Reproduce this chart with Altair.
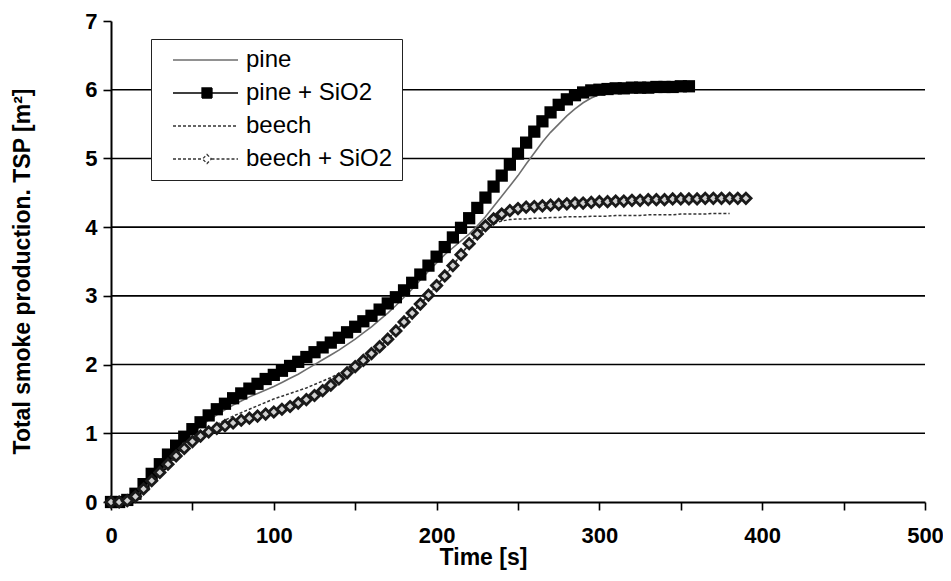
import altair as alt
import pandas as pd

# ---------------- data ----------------
series_names = ["pine", "pine + SiO2", "beech", "beech + SiO2"]

pine_t = list(range(0, 345, 5))
pine_v = [0.00, 0.00, 0.03, 0.11, 0.24, 0.38, 0.52, 0.65, 0.78, 0.90,
          1.01, 1.10, 1.19, 1.27, 1.34, 1.41, 1.47, 1.53, 1.58, 1.63,
          1.68, 1.74, 1.80, 1.86, 1.93, 2.00, 2.07, 2.14, 2.21, 2.29,
          2.37, 2.46, 2.55, 2.65, 2.75, 2.86, 2.98, 3.10, 3.23, 3.36,
          3.48, 3.60, 3.70, 3.80, 3.90, 4.02, 4.15, 4.30, 4.45, 4.60,
          4.75, 4.92, 5.08, 5.24, 5.38, 5.50, 5.62, 5.72, 5.81, 5.88,
          5.93, 5.97, 5.99, 6.00, 6.01, 6.02, 6.02, 6.03, 6.03]

pine_si_t = list(range(0, 360, 5))
pine_si_v = [0.00, 0.00, 0.03, 0.12, 0.26, 0.41, 0.55, 0.69, 0.82, 0.95,
             1.06, 1.16, 1.26, 1.35, 1.43, 1.51, 1.58, 1.65, 1.72, 1.79,
             1.85, 1.91, 1.98, 2.04, 2.11, 2.18, 2.25, 2.32, 2.39, 2.47,
             2.55, 2.63, 2.71, 2.80, 2.89, 2.98, 3.08, 3.19, 3.31, 3.44,
             3.57, 3.71, 3.85, 3.99, 4.13, 4.28, 4.43, 4.59, 4.75, 4.91,
             5.07, 5.23, 5.39, 5.54, 5.67, 5.78, 5.86, 5.92, 5.96, 5.99,
             6.00, 6.01, 6.02, 6.02, 6.03, 6.03, 6.03, 6.04, 6.04, 6.04,
             6.05, 6.05]

beech_t = list(range(0, 385, 5))
beech_v = [0.00, 0.00, 0.02, 0.08, 0.19, 0.31, 0.43, 0.55, 0.67, 0.78,
           0.88, 0.98, 1.06, 1.13, 1.19, 1.25, 1.30, 1.35, 1.40, 1.45,
           1.50, 1.54, 1.58, 1.62, 1.66, 1.71, 1.76, 1.81, 1.87, 1.93,
           2.00, 2.07, 2.16, 2.26, 2.37, 2.49, 2.62, 2.75, 2.88, 3.01,
           3.15, 3.29, 3.44, 3.60, 3.75, 3.88, 3.98, 4.05, 4.09, 4.11,
           4.12, 4.12, 4.13, 4.13, 4.14, 4.14, 4.15, 4.15, 4.15, 4.16,
           4.16, 4.16, 4.17, 4.17, 4.17, 4.17, 4.18, 4.18, 4.18, 4.18,
           4.19, 4.19, 4.19, 4.19, 4.20, 4.20, 4.20]

beech_si_t = list(range(0, 395, 5))
beech_si_v = [0.00, 0.00, 0.02, 0.08, 0.19, 0.31, 0.43, 0.55, 0.67, 0.78,
              0.88, 0.96, 1.02, 1.07, 1.11, 1.15, 1.19, 1.22, 1.25, 1.28,
              1.31, 1.35, 1.39, 1.44, 1.49, 1.55, 1.62, 1.70, 1.79, 1.88,
              1.97, 2.06, 2.16, 2.26, 2.37, 2.49, 2.62, 2.75, 2.88, 3.01,
              3.15, 3.29, 3.44, 3.60, 3.76, 3.90, 4.02, 4.12, 4.19, 4.24,
              4.27, 4.29, 4.30, 4.31, 4.32, 4.33, 4.34, 4.35, 4.35, 4.36,
              4.37, 4.37, 4.38, 4.38, 4.39, 4.39, 4.40, 4.40, 4.40, 4.41,
              4.41, 4.41, 4.41, 4.42, 4.42, 4.42, 4.42, 4.42, 4.42]

grid_values = [1, 2, 3, 4, 5, 6]
x_ticks = list(range(0, 550, 50))
y_ticks = [i / 2 for i in range(0, 15)]

FONT = "Liberation Sans"

def frame(name, t, v):
    return pd.DataFrame({"t": t, "v": v, "series": name})

df_pine = frame("pine", pine_t, pine_v)
df_pine_si = frame("pine + SiO2", pine_si_t, pine_si_v)
df_beech = frame("beech", beech_t, beech_v)
df_beech_si = frame("beech + SiO2", beech_si_t, beech_si_v)
df_all = pd.concat([df_pine, df_pine_si, df_beech, df_beech_si], ignore_index=True)

x_enc = alt.X("t:Q", scale=alt.Scale(domain=[0, 500], nice=False),
              axis=alt.Axis(values=x_ticks, title="Time [s]",
                            labelExpr="datum.value % 100 ? '' : format(datum.value, 'd')",
                            labelPadding=15, labelFlush=False, titleX=372, titleY=55,
                            titleBaseline="middle", titleAlign="center"))
y_enc = alt.Y("v:Q", scale=alt.Scale(domain=[0, 7], nice=False),
              axis=alt.Axis(values=y_ticks, title="Total smoke production. TSP [m²]",
                            labelExpr="datum.value % 1 ? '' : format(datum.value, 'd')",
                            labelPadding=6, labelFlush=False, titleX=-89, titleY=250,
                            titleBaseline="middle", titleAlign="center"))

grid = alt.Chart(pd.DataFrame({"g": grid_values})).mark_rule(
    color="black", strokeWidth=1.6).encode(y=alt.Y("g:Q", scale=alt.Scale(domain=[0, 7], nice=False)))

pine_line = alt.Chart(df_pine).mark_line(color="#6e6e6e", strokeWidth=1.6).encode(x=x_enc, y=y_enc)
pine_si_line = alt.Chart(df_pine_si).mark_line(color="black", strokeWidth=1.5).encode(x=x_enc, y=y_enc)
pine_si_pts = alt.Chart(df_pine_si).mark_point(
    shape="square", filled=True, color="black", size=150, opacity=1).encode(x=x_enc, y=y_enc)
beech_line = alt.Chart(df_beech).mark_line(
    color="#333333", strokeWidth=1.5, strokeDash=[3, 2]).encode(x=x_enc, y=y_enc)
beech_si_line = alt.Chart(df_beech_si).mark_line(
    color="#333333", strokeWidth=1.5, strokeDash=[3, 2]).encode(x=x_enc, y=y_enc)
beech_si_pts = alt.Chart(df_beech_si).mark_point(
    shape="diamond", filled=False, fill="#d0d0d0", stroke="#1a1a1a", strokeWidth=2.8,
    size=105, opacity=1).encode(x=x_enc, y=y_enc)

# legend-only layer (no rows drawn), symbols = line + marker paths
sym_paths = [
    "M0.2,0H13.2",
    "M0.2,0H6.0M8.0,0H13.2M6.0,-1H8.0V1H6.0Z",
    "M0.2,0H13.2",
    "M0.2,0H6.1M7.9,0H13.2M7.0,-0.9L7.9,0L7.0,0.9L6.1,0Z",
]
legend_spec = alt.Legend(title=None, orient="none", legendX=40, legendY=18,
                         padding=9, rowPadding=9, labelOffset=62,
                         symbolSize=100, symbolStrokeWidth=1.3,
                         labelFontSize=24, labelFont=FONT, labelColor="black",
                         strokeColor="#222222", fillColor="white")
legend_layer = alt.Chart(df_all).transform_filter("datum.t < 0").mark_point(
    filled=False, opacity=1).encode(
    x=x_enc, y=y_enc,
    shape=alt.Shape("series:N", scale=alt.Scale(domain=series_names, range=sym_paths), legend=legend_spec),
    fill=alt.Fill("series:N", scale=alt.Scale(domain=series_names,
                  range=["white", "black", "white", "white"]), legend=legend_spec),
    stroke=alt.Stroke("series:N", scale=alt.Scale(domain=series_names,
                      range=["#6e6e6e", "black", "#333333", "#333333"]), legend=legend_spec),
    strokeDash=alt.StrokeDash("series:N", scale=alt.Scale(domain=series_names,
                              range=[[1, 0], [1, 0], [3, 2], [3, 2]]), legend=legend_spec),
)

chart = alt.layer(
    grid, pine_line, pine_si_line, pine_si_pts, beech_line, beech_si_line, beech_si_pts, legend_layer
).properties(
    width=814, height=481,
    autosize=alt.AutoSizeParams(type="none"),
    padding={"left": 103, "top": 13, "right": 18, "bottom": 70},
    background="white",
).configure_view(stroke=None).configure_axis(
    grid=False, domainColor="black", domainWidth=2, tickColor="black", tickWidth=1.6,
    tickSize=8, labelFont=FONT, labelFontWeight="bold", labelFontSize=22, labelColor="black",
    titleFont=FONT, titleFontWeight="bold", titleFontSize=23, titleColor="black",
)

chart.save("out.html", embed_options={"renderer": "svg", "actions": False})
